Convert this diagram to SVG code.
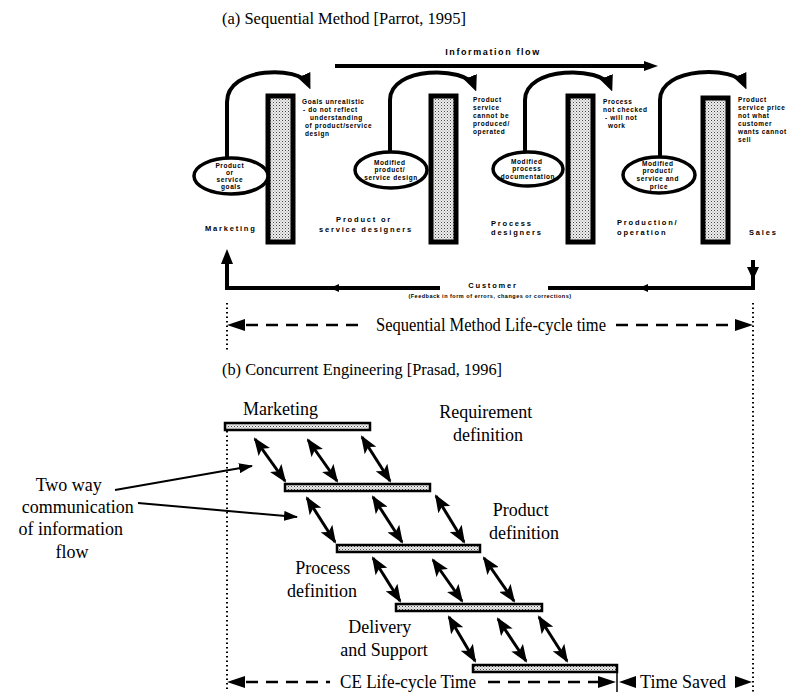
<svg xmlns="http://www.w3.org/2000/svg" width="790" height="692" viewBox="0 0 790 692">
  <style>
    .title { font-family: "Liberation Serif", "Times New Roman", serif; font-size: 17px; fill: #000; }
    .serif { font-family: "Liberation Serif", "Times New Roman", serif; font-size: 18px; fill: #000; }
    .tiny { font-family: "Liberation Sans", Arial, sans-serif; font-size: 6.5px; font-weight: bold; fill: #000; letter-spacing: 0.6px; }
    .lab { font-family: "Liberation Sans", Arial, sans-serif; font-size: 7.5px; font-weight: bold; fill: #000; letter-spacing: 1.8px; }
    .flow { font-family: "Liberation Sans", Arial, sans-serif; font-size: 9px; font-weight: bold; fill: #000; letter-spacing: 1.6px; }
    .feed { font-family: "Liberation Sans", Arial, sans-serif; font-size: 5.5px; font-weight: bold; fill: #000; letter-spacing: 0.5px; }
    .vbar { fill: url(#stip); stroke: #000; stroke-width: 5; }
    .hbar { fill: url(#stip); stroke: #000; stroke-width: 2.5; }
    .oval { fill: #fff; stroke: #000; stroke-width: 3.5; }
    .curve { fill: none; stroke: #000; stroke-width: 4; marker-end: url(#curveHead); }
    .thick { fill: none; stroke: #000; stroke-width: 4; }
    .dbl { stroke: #000; stroke-width: 3; marker-start: url(#big); marker-end: url(#big); }
    .ptr { stroke: #000; stroke-width: 2; marker-end: url(#ptrHead); }
    .dots { stroke: #000; stroke-width: 2; stroke-dasharray: 1.5 3; }
    .dash { stroke: #000; stroke-width: 2.5; stroke-dasharray: 12 8; }
  </style>
  <defs>
    <pattern id="stip" width="3" height="3" patternUnits="userSpaceOnUse">
      <rect width="3" height="3" fill="#eeeeee"/>
      <rect width="1" height="1" fill="#444"/>
      <rect x="1.5" y="1.5" width="1" height="1" fill="#888"/>
    </pattern>
    <marker id="big" markerUnits="userSpaceOnUse" markerWidth="18" markerHeight="14" refX="16" refY="7" orient="auto-start-reverse">
      <path d="M0,0 L18,7 L0,14 L4,7 z" fill="#000"/>
    </marker>
    <marker id="curveHead" markerUnits="userSpaceOnUse" markerWidth="16" markerHeight="14" refX="10" refY="7" orient="auto">
      <path d="M0,0 L16,7 L0,14 z" fill="#000"/>
    </marker>
    <marker id="ptrHead" markerUnits="userSpaceOnUse" markerWidth="14" markerHeight="10" refX="13" refY="5" orient="auto">
      <path d="M0,0 L14,5 L0,10 z" fill="#000"/>
    </marker>
    <marker id="flowHead" markerUnits="userSpaceOnUse" markerWidth="14" markerHeight="10" refX="2" refY="5" orient="auto">
      <path d="M0,0 L14,5 L0,10 z" fill="#000"/>
    </marker>
  </defs>

  <!-- (a) Sequential method -->
  <text class="title" x="222" y="24" textLength="244" lengthAdjust="spacingAndGlyphs">(a)  Sequential Method [Parrot, 1995]</text>

  <g id="info-flow">
    <text class="flow" x="493" y="55" text-anchor="middle">Information flow</text>
    <line x1="335" y1="66" x2="646" y2="66" stroke="#000" stroke-width="4" marker-end="url(#flowHead)"/>
  </g>

  <g id="marketing">
    <rect class="vbar" x="268" y="96" width="25" height="146"/>
    <ellipse class="oval" cx="231" cy="176" rx="37" ry="18"/>
    <text class="tiny" text-anchor="middle">
      <tspan x="231" y="168">Product</tspan>
      <tspan x="231" y="175">or</tspan>
      <tspan x="231" y="182">service</tspan>
      <tspan x="231" y="189">goals</tspan>
    </text>
    <text class="lab" x="205" y="231">Marketing</text>
    <text class="tiny">
      <tspan x="302" y="104">Goals unrealistic</tspan>
      <tspan x="303" y="112">- do not reflect</tspan>
      <tspan x="310" y="120">understanding</tspan>
      <tspan x="305" y="128">of product/service</tspan>
      <tspan x="305" y="136">design</tspan>
    </text>
  </g>

  <g id="designers">
    <rect class="vbar" x="431" y="96" width="25" height="146"/>
    <ellipse class="oval" cx="391" cy="170" rx="36" ry="18"/>
    <text class="tiny" text-anchor="middle">
      <tspan x="391" y="165">Modified</tspan>
      <tspan x="391" y="172">product/</tspan>
      <tspan x="391" y="180">service design</tspan>
    </text>
    <text class="lab" text-anchor="middle">
      <tspan x="366" y="222">Product or</tspan>
      <tspan x="366" y="232">service designers</tspan>
    </text>
    <text class="tiny">
      <tspan x="473" y="102">Product</tspan>
      <tspan x="473" y="110">service</tspan>
      <tspan x="473" y="118">cannot be</tspan>
      <tspan x="473" y="126">produced/</tspan>
      <tspan x="473" y="134">operated</tspan>
    </text>
  </g>

  <g id="process-designers">
    <rect class="vbar" x="568" y="96" width="25" height="146"/>
    <ellipse class="oval" cx="528" cy="169" rx="35" ry="17"/>
    <text class="tiny" text-anchor="middle">
      <tspan x="528" y="164">Modified</tspan>
      <tspan x="528" y="171">process</tspan>
      <tspan x="528" y="179">documentation</tspan>
    </text>
    <text class="lab">
      <tspan x="491" y="226">Process</tspan>
      <tspan x="491" y="235">designers</tspan>
    </text>
    <text class="tiny">
      <tspan x="603" y="104">Process</tspan>
      <tspan x="603" y="112">not checked</tspan>
      <tspan x="605" y="120">- will not</tspan>
      <tspan x="608" y="128">work</tspan>
    </text>
  </g>

  <g id="production">
    <rect class="vbar" x="703" y="98" width="25" height="144"/>
    <ellipse class="oval" cx="659" cy="175" rx="36" ry="18"/>
    <text class="tiny" text-anchor="middle">
      <tspan x="659" y="166">Modified</tspan>
      <tspan x="659" y="173">product/</tspan>
      <tspan x="659" y="181">service and</tspan>
      <tspan x="659" y="189">price</tspan>
    </text>
    <text class="lab">
      <tspan x="617" y="225">Production/</tspan>
      <tspan x="617" y="235">operation</tspan>
    </text>
    <text class="tiny" letter-spacing="0.3">
      <tspan x="738" y="102">Product</tspan>
      <tspan x="738" y="110">service price</tspan>
      <tspan x="738" y="118">not what</tspan>
      <tspan x="738" y="126">customer</tspan>
      <tspan x="738" y="134">wants cannot</tspan>
      <tspan x="738" y="142">sell</tspan>
    </text>
  </g>

  <g id="sales">
    <text class="lab" x="749" y="235">Sales</text>
  </g>

  <g id="customer">
    <text class="lab" x="493" y="288" text-anchor="middle">Customer</text>
    <text class="feed" x="490" y="298" text-anchor="middle">(Feedback in form of errors, changes or corrections)</text>
  </g>

  <g id="connectors">
    <!-- loop arrows from each stage over its bar -->
    <path class="curve" d="M227,158 V102 C227,66 300,66 308,84"/>
    <path class="curve" d="M390,152 V100 C390,66 466,66 474,86"/>
    <path class="curve" d="M525,152 V100 C525,66 602,66 610,86"/>
    <path class="curve" d="M660,157 V100 C660,66 736,66 744,84"/>

    <!-- customer feedback loop -->
    <path class="thick" d="M440,288 H227 V262"/>
    <path d="M221,264 L227,249 L233,264 z" fill="#000"/>
    <path d="M339,284 L330,288 L339,292 z" fill="#000"/>
    <path class="thick" d="M548,288 H753 V260"/>
    <path d="M747,267 L753,280 L759,267 z" fill="#000"/>
    <path d="M648,284 L639,288 L648,292 z" fill="#000"/>

    <!-- time bounds -->
    <line class="dots" x1="227" y1="303" x2="227" y2="352"/>
    <line class="dots" x1="227" y1="431" x2="227" y2="692"/>
    <line class="dots" x1="753" y1="303" x2="753" y2="692"/>

    <!-- sequential life-cycle span -->
    <path d="M245,319 L227,325 L245,331 z" fill="#000"/>
    <line class="dash" x1="246" y1="325" x2="366" y2="325"/>
    <line class="dash" x1="616" y1="325" x2="735" y2="325"/>
    <path d="M735,319 L753,325 L735,331 z" fill="#000"/>

    <!-- two way communication arrows between stages -->
    <line class="dbl" x1="255" y1="439" x2="285" y2="481"/>
    <line class="dbl" x1="308" y1="440" x2="337" y2="481"/>
    <line class="dbl" x1="362" y1="437" x2="390" y2="481"/>

    <line class="dbl" x1="307" y1="498" x2="335" y2="542"/>
    <line class="dbl" x1="373" y1="497" x2="402" y2="542"/>
    <line class="dbl" x1="436" y1="496" x2="464" y2="542"/>

    <line class="dbl" x1="373" y1="558" x2="400" y2="601"/>
    <line class="dbl" x1="433" y1="560" x2="462" y2="601"/>
    <line class="dbl" x1="484" y1="558" x2="514" y2="601"/>

    <line class="dbl" x1="449" y1="617" x2="475" y2="661"/>
    <line class="dbl" x1="498" y1="619" x2="526" y2="661"/>
    <line class="dbl" x1="539" y1="617" x2="567" y2="661"/>

    <!-- pointers from the annotation -->
    <line class="ptr" x1="115" y1="490" x2="252" y2="466"/>
    <line class="ptr" x1="138" y1="503" x2="297" y2="517"/>

    <!-- CE life-cycle span and time saved -->
    <path d="M245,676 L227,682 L245,688 z" fill="#000"/>
    <line class="dash" x1="246" y1="682" x2="330" y2="682"/>
    <line class="dash" x1="488" y1="682" x2="598" y2="682"/>
    <path d="M598,676 L616,682 L598,688 z" fill="#000"/>
    <line x1="617" y1="672" x2="617" y2="692" stroke="#000" stroke-width="1.5"/>
    <path d="M636,676 L619,682 L636,688 z" fill="#000"/>
    <path d="M735,676 L752,682 L735,688 z" fill="#000"/>
  </g>

  <!-- (b) Concurrent engineering -->
  <text class="title" x="222" y="375" textLength="280" lengthAdjust="spacingAndGlyphs">(b)  Concurrent Engineering [Prasad, 1996]</text>
  <text class="serif" x="376" y="331" font-size="16" textLength="230" lengthAdjust="spacingAndGlyphs">Sequential Method Life-cycle time</text>

  <g id="ce-marketing">
    <text class="serif" x="243" y="415">Marketing</text>
    <rect class="hbar" x="225" y="423" width="145" height="7"/>
  </g>
  <g id="ce-requirement">
    <text class="serif" text-anchor="middle">
      <tspan x="488" y="418">Requirement</tspan>
      <tspan x="488" y="441">definition</tspan>
    </text>
    <rect class="hbar" x="285" y="484" width="145" height="7"/>
  </g>
  <g id="ce-product">
    <text class="serif" text-anchor="middle">
      <tspan x="523" y="516">Product</tspan>
      <tspan x="524" y="539">definition</tspan>
    </text>
    <rect class="hbar" x="337" y="545" width="143" height="7"/>
  </g>
  <g id="ce-process">
    <text class="serif" text-anchor="middle">
      <tspan x="325" y="574">Process</tspan>
      <tspan x="322" y="597">definition</tspan>
    </text>
    <rect class="hbar" x="396" y="604" width="146" height="7"/>
  </g>
  <g id="ce-delivery">
    <text class="serif" text-anchor="middle">
      <tspan x="382" y="633">Delivery</tspan>
      <tspan x="384" y="656">and Support</tspan>
    </text>
    <rect class="hbar" x="473" y="665" width="144" height="7"/>
  </g>

  <g id="annotation">
    <text class="serif" text-anchor="middle">
      <tspan x="71" y="491">Two way</tspan>
      <tspan x="80" y="513">communication</tspan>
      <tspan x="73" y="535">of information</tspan>
      <tspan x="72" y="558">flow</tspan>
    </text>
  </g>

  <text class="serif" x="340" y="688" font-size="17" textLength="136" lengthAdjust="spacingAndGlyphs">CE Life-cycle Time</text>
  <text class="serif" x="683" y="688" text-anchor="middle" font-size="17">Time Saved</text>
</svg>
